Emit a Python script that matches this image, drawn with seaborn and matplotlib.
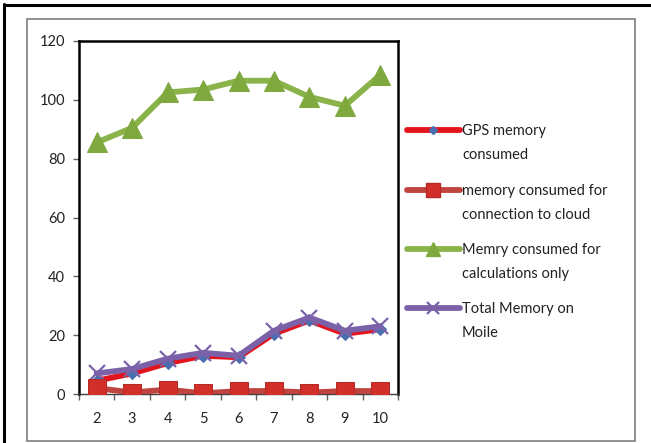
import matplotlib
matplotlib.use("Agg")
import matplotlib.pyplot as plt
from matplotlib.patches import Rectangle
from matplotlib.lines import Line2D
import seaborn as sns
import pandas as pd

# Series values per run (2..10)
runs = [2, 3, 4, 5, 6, 7, 8, 9, 10]
gps_memory = [4.5, 7, 10.5, 13, 12.5, 20.5, 25, 20.5, 22]
cloud_memory = [2, 0.5, 1.5, 0.2, 1, 1, 0.5, 1, 1]
calc_memory = [85.5, 90.5, 102.5, 103.5, 106.5, 106.5, 101, 98, 108.5]
total_memory = [7, 8.5, 12, 14, 13, 21.5, 26, 21.5, 23]

labels = [
    "GPS memory\nconsumed",
    "memory consumed for\nconnection to cloud",
    "Memry consumed for\ncalculations only",
    "Total Memory on\nMoile",
]
yticks = [0, 20, 40, 60, 80, 100, 120]

sns.set_theme(style="white")
plt.rcParams["font.family"] = ["Lato", "DejaVu Sans"]

W, H = 651, 443
fig = plt.figure(figsize=(W / 100, H / 100), dpi=100)
fig.patch.set_facecolor("white")

# page edges and chart frame
fig.add_artist(Line2D([4 / W, 4 / W], [0, 1 - 4 / H], color="black", lw=2.2,
                      transform=fig.transFigure))
fig.add_artist(Line2D([4 / W, 1], [1 - 5 / H, 1 - 5 / H], color="black", lw=2.2,
                      transform=fig.transFigure))
fig.add_artist(Rectangle((27 / W, 1 - 441 / H), (635 - 27) / W, (441 - 19) / H,
                         transform=fig.transFigure, fill=False,
                         edgecolor="#7f7f7f", lw=1.2))

ax = fig.add_axes([79 / W, 1 - 394 / H, (398 - 79) / W, (394 - 41) / H])

df = pd.DataFrame({
    "run": runs,
    "gps": gps_memory,
    "cloud": cloud_memory,
    "calc": calc_memory,
    "total": total_memory,
})

lw = 4.2
styles = {
    "gps": dict(color="#e3141c", marker="D", markersize=6,
                markerfacecolor="#4a6fb0", markeredgecolor="#4a6fb0"),
    "total": dict(color="#7b62a8", marker="x", markersize=11,
                  markeredgewidth=1.6, markeredgecolor="#7b62a8"),
    "cloud": dict(color="#c0433f", marker="s", markersize=13,
                  markerfacecolor="#d32f2a", markeredgecolor="#b52a26"),
    "calc": dict(color="#8ab34a", marker="^", markersize=14,
                 markerfacecolor="#7fa83e", markeredgecolor="#7fa83e"),
}
z = {"gps": 3, "total": 4, "cloud": 5, "calc": 3}
for key in ("gps", "total", "cloud", "calc"):
    sns.lineplot(data=df, x="run", y=key, ax=ax, lw=lw, zorder=z[key],
                 legend=False, **styles[key])

ax.set_xlim(1.5, 10.5)
ax.set_ylim(0, 120)
ax.set_yticks(yticks)
ax.set_xticks(runs)
ax.set_xticks([r - 0.5 for r in runs] + [10.5], minor=True)
ax.set_xlabel("")
ax.set_ylabel("")

for s in ("left", "top", "right"):
    ax.spines[s].set_color("black")
    ax.spines[s].set_linewidth(1.8)
ax.spines["bottom"].set_color("#404040")
ax.spines["bottom"].set_linewidth(1.0)

ax.tick_params(axis="y", which="major", direction="out", length=4, width=1,
               color="#606060", left=True, labelsize=10.5, labelcolor="#222222",
               pad=6)
ax.tick_params(axis="x", which="major", length=0, labelsize=10.5,
               labelcolor="#222222", pad=13)
ax.tick_params(axis="x", which="minor", direction="out", length=4, width=1,
               color="#606060", bottom=True)

# legend: handle beside the first line of each two-line label
legend_keys = ["gps", "cloud", "calc", "total"]
first_line_y = [130, 190, 249, 308]
for key, label, yp in zip(legend_keys, labels, first_line_y):
    fy = 1 - yp / H
    st = dict(styles[key])
    ms = st.pop("markersize") * 0.75
    fig.add_artist(Line2D([407 / W, 433.5 / W, 460 / W], [fy, fy, fy], lw=lw,
                          transform=fig.transFigure, markevery=[1],
                          markersize=ms, **st))
    fig.text(462 / W, fy + 6 / H, label, ha="left", va="top", fontsize=10.5,
             color="#222222", linespacing=1.95, transform=fig.transFigure)

fig.savefig("out.png", dpi=100, facecolor="white")
